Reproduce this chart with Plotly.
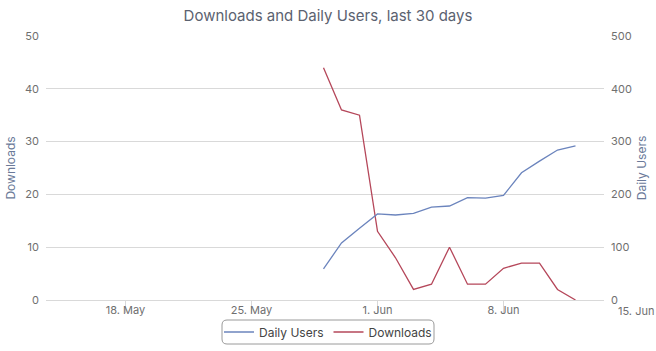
import plotly.graph_objects as go
import pandas as pd

dates = ["2023-05-29", "2023-05-30", "2023-05-31", "2023-06-01", "2023-06-02",
         "2023-06-03", "2023-06-04", "2023-06-05", "2023-06-06", "2023-06-07",
         "2023-06-08", "2023-06-09", "2023-06-10", "2023-06-11", "2023-06-12"]
daily_users = [59, 108, 136, 163, 161, 164, 176, 178, 194, 193, 198, 241, 263, 284, 292]
downloads = [44, 36, 35, 13, 8, 2, 3, 10, 3, 3, 6, 7, 7, 2, 0]

tick_dates = ["2023-05-18", "2023-05-25", "2023-06-01", "2023-06-08"]
tick_labels = ["18. May", "25. May", "1. Jun", "8. Jun"]
extra_tick_date = "2023-06-15"
extra_tick_label = "15. Jun"

x_range = ["2023-05-13 14:00", "2023-06-13 14:00"]

FONT = "Inter, Roboto, sans-serif"
TICK_COLOR = "#6f6f6f"
TITLE_AXIS_COLOR = "#6b7a99"
GRID = "#d9d9d9"

fig = go.Figure()
fig.add_trace(go.Scatter(x=dates, y=daily_users, name="Daily Users", yaxis="y2",
                         mode="lines", line=dict(color="#6b84bd", width=1.3)))
fig.add_trace(go.Scatter(x=dates, y=downloads, name="Downloads", yaxis="y",
                         mode="lines", line=dict(color="#b5475a", width=1.3)))

fig.update_layout(
    width=656, height=351,
    margin=dict(l=46, r=52, t=36, b=51, autoexpand=False),
    paper_bgcolor="white", plot_bgcolor="white",
    font=dict(family=FONT, size=11, color=TICK_COLOR),
    title=dict(text="Downloads and Daily Users, last 30 days", x=0.5, xanchor="center",
               y=0.955, yanchor="middle",
               font=dict(family=FONT, size=15, color="#5b6270")),
    xaxis=dict(type="date", range=x_range, tickvals=tick_dates, ticktext=tick_labels,
               showgrid=False, showline=True, linecolor=GRID, linewidth=1,
               ticks="outside", ticklen=12, tickcolor=GRID, ticklabelstandoff=-12,
               tickfont=dict(size=11, color=TICK_COLOR),
               zeroline=False),
    yaxis=dict(range=[0, 50], dtick=10, showgrid=True, gridcolor=GRID, gridwidth=1,
               zeroline=False, ticks="", tickfont=dict(size=11, color=TICK_COLOR),
               ticklabelstandoff=6,
               title=dict(text="Downloads", font=dict(size=12, color=TITLE_AXIS_COLOR), standoff=6)),
    yaxis2=dict(range=[0, 500], dtick=100, overlaying="y", side="right", showgrid=False,
                zeroline=False, ticks="", tickfont=dict(size=11, color=TICK_COLOR),
                ticklabelstandoff=6,
                title=dict(text="Daily Users", font=dict(size=12, color=TITLE_AXIS_COLOR), standoff=6)),
    legend=dict(orientation="h", x=0.5, xanchor="center", xref="container",
                y=1 - 332 / 351, yanchor="middle", yref="container",
                bgcolor="rgba(0,0,0,0)", borderwidth=0,
                font=dict(size=12, color="#444444"), itemwidth=30),
    showlegend=True,
)

# rounded legend frame (pixel geometry converted to paper units)
PX_W, PX_H, L, T = 558, 264, 46, 36
bx0, bx1, by0, by1 = 222, 434, 320, 344
x0, x1 = (bx0 - L) / PX_W, (bx1 - L) / PX_W
y0, y1 = (T + PX_H - by0) / PX_H, (T + PX_H - by1) / PX_H
rx, ry = 5 / PX_W, 5 / PX_H
path = (f"M {x0+rx},{y0} L {x1-rx},{y0} Q {x1},{y0} {x1},{y0-ry} "
        f"L {x1},{y1+ry} Q {x1},{y1} {x1-rx},{y1} L {x0+rx},{y1} "
        f"Q {x0},{y1} {x0},{y1+ry} L {x0},{y0-ry} Q {x0},{y0} {x0+rx},{y0} Z")
fig.add_shape(type="path", path=path, xref="paper", yref="paper",
              line=dict(color="#9a9a9a", width=1), fillcolor="rgba(0,0,0,0)", layer="below")

# tick label that lies just beyond the plotted date range
r0, r1 = pd.Timestamp(x_range[0]), pd.Timestamp(x_range[1])
xp = (pd.Timestamp(extra_tick_date) - r0) / (r1 - r0)
fig.add_annotation(x=xp, xref="paper", xanchor="center", y=0, yref="paper", yanchor="middle",
                   xshift=6, yshift=-11, text=extra_tick_label, showarrow=False,
                   font=dict(size=11, color=TICK_COLOR))

fig.write_html("out.html")
